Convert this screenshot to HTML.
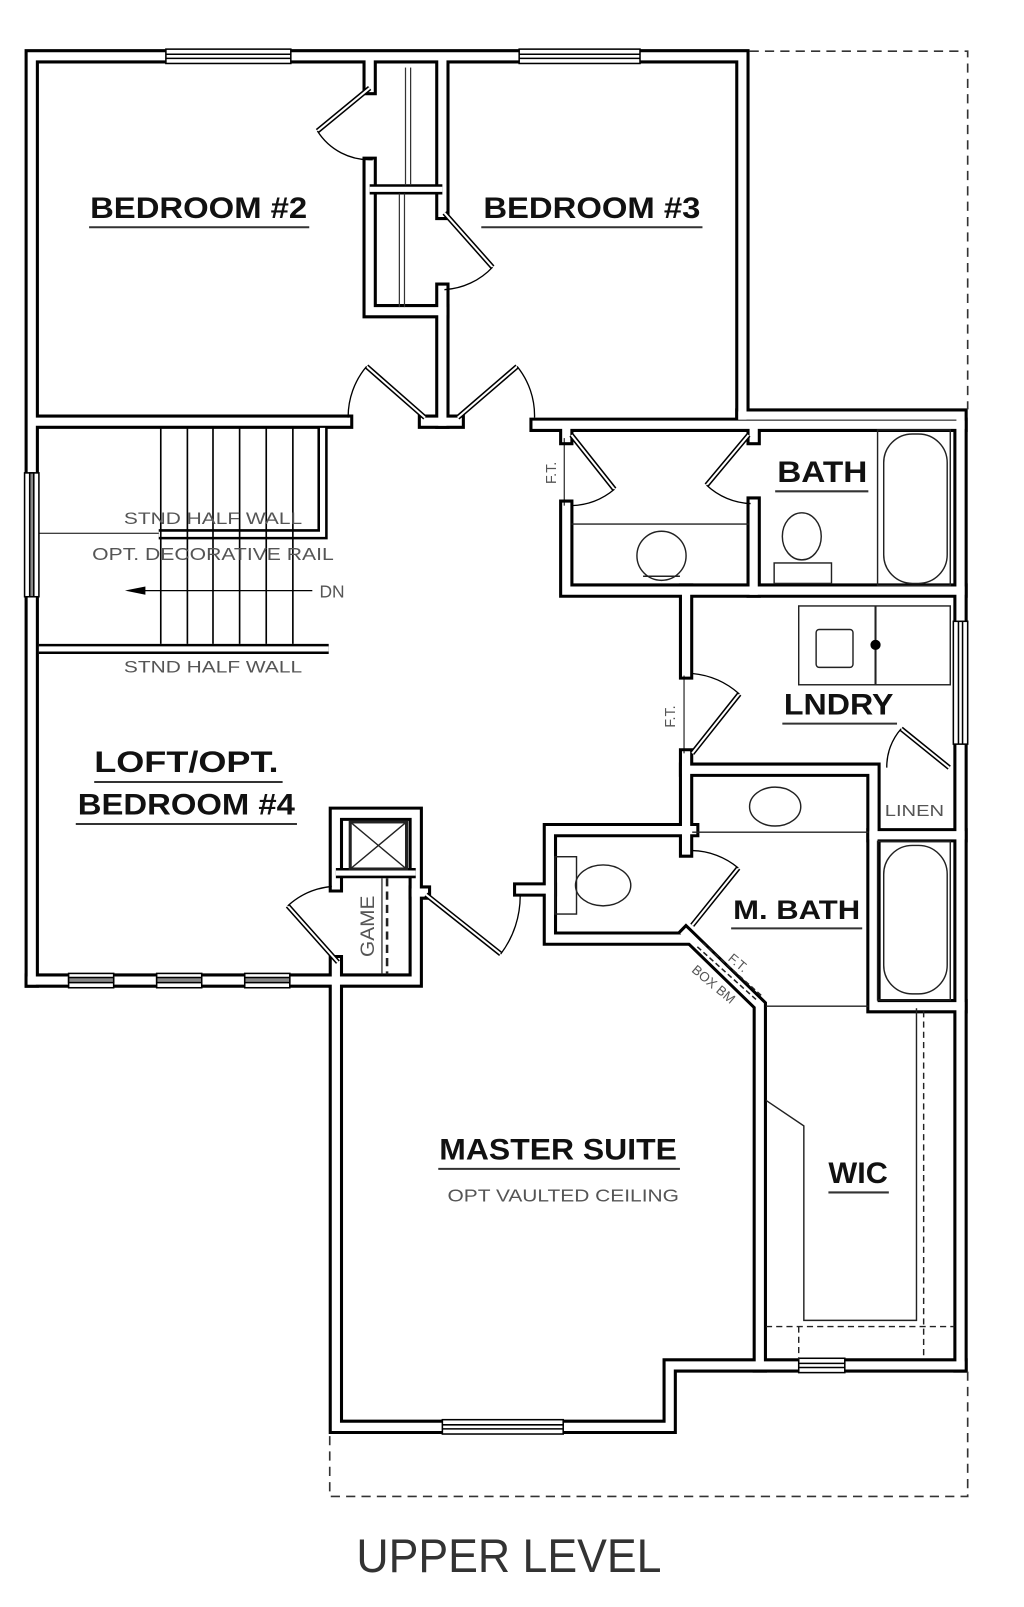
<!DOCTYPE html>
<html><head><meta charset="utf-8"><style>
html,body{margin:0;padding:0;background:#fff;}
svg{display:block;}
.t{font-family:"Liberation Sans",sans-serif;font-weight:bold;fill:#111;}
.s{font-family:"Liberation Sans",sans-serif;fill:#555;}
</style></head><body>
<svg width="1024" height="1607" viewBox="0 0 1000 1570" preserveAspectRatio="none" xmlns="http://www.w3.org/2000/svg">
<defs>
<g id="W" fill="none" stroke-linejoin="miter" stroke-linecap="square">
<path d="M31 958 V55 H725 V406"/>
<path d="M725 406 H938 V1334"/>
<path d="M938 1334 H654 V1394 H328 V958"/>
<path d="M31 958 H328"/>
<path d="M38 412 H338"/>
<path d="M415 412 H447"/>
<path d="M524 415 H938"/>
<path d="M361 62 V86"/>
<path d="M361 160 V304 H432"/>
<path d="M432 62 V208"/>
<path d="M432 283 V412"/>
<path d="M553 495 V577 H938"/>
<path d="M553 418 V428"/>
<path d="M736 418 V428"/>
<path d="M736 492 V577"/>
<path d="M670 577 V657"/>
<path d="M670 738 V831"/>
<path d="M670 752 H853 V816 H938"/>
<path d="M676 811 H537 V917 H670"/>
<path d="M508 869 H537"/>
<path d="M670 912 L742 982 V1334"/>
<path d="M853 816 V983 H938"/>
<path d="M328 958 V940"/>
<path d="M328 865 V795 H406 V958 H328"/>
<path d="M406 872 H414"/>
</g>
<g id="H" fill="none" stroke-linecap="butt">
<path d="M38 634 H321"/>
<path d="M155 522 H315 V418"/>
<path d="M361 185 H432"/>
<path d="M328 853 H406"/>
</g>
<g id="L">
<path d="M361 86 L310 128"/>
<path d="M434 208 L481 261"/>
<path d="M415 408 L358 358"/>
<path d="M447 408 L505 358"/>
<path d="M558 425 L600 478"/>
<path d="M731 425 L690 474"/>
<path d="M676 736 L722 678"/>
<path d="M927 750 L880 712"/>
<path d="M676 904 L721 848"/>
<path d="M330 940 L281 885"/>
<path d="M416 874 L489 932"/>
</g>
</defs>
<use href="#W" stroke="#000" stroke-width="14"/>
<use href="#W" stroke="#fff" stroke-width="8"/>
<use href="#H" stroke="#000" stroke-width="10"/>
<use href="#H" stroke="#fff" stroke-width="5"/>

<!-- windows -->
<g stroke="#000" stroke-width="1.5">
<rect x="162" y="48" width="122" height="14" fill="#fff"/>
<line x1="162" y1="53" x2="284" y2="53"/><line x1="162" y1="57" x2="284" y2="57"/>
<rect x="507" y="48" width="118" height="14" fill="#fff"/>
<line x1="507" y1="53" x2="625" y2="53"/><line x1="507" y1="57" x2="625" y2="57"/>
<rect x="24" y="462" width="14" height="121" fill="#fff"/>
<rect x="29" y="462" width="4" height="121" fill="#888"/>
<rect x="931" y="607" width="14" height="120" fill="#fff"/>
<line x1="936" y1="607" x2="936" y2="727"/><line x1="940" y1="607" x2="940" y2="727"/>
<rect x="67" y="951" width="44" height="14" fill="#fff"/><rect x="67" y="955" width="44" height="5" fill="#888"/>
<rect x="153" y="951" width="44" height="14" fill="#fff"/><rect x="153" y="955" width="44" height="5" fill="#888"/>
<rect x="239" y="951" width="44" height="14" fill="#fff"/><rect x="239" y="955" width="44" height="5" fill="#888"/>
<rect x="432" y="1387" width="118" height="14" fill="#fff"/>
<line x1="432" y1="1392" x2="550" y2="1392"/><line x1="432" y1="1396" x2="550" y2="1396"/>
<rect x="780" y="1327" width="45" height="14" fill="#fff"/>
<line x1="780" y1="1332" x2="825" y2="1332"/><line x1="780" y1="1336" x2="825" y2="1336"/>
</g>

<!-- dashed outline -->
<g fill="none" stroke="#333" stroke-width="1.6" stroke-dasharray="9 6">
<path d="M732 50 H945 V400"/>
<path d="M945 1340 V1462 H322 V1400"/>
</g>

<!-- closet shelves -->
<g stroke="#333" stroke-width="1.2">
<line x1="396" y1="66" x2="396" y2="181"/><line x1="401" y1="66" x2="401" y2="181"/>
<line x1="390" y1="189" x2="390" y2="300"/><line x1="395" y1="189" x2="395" y2="300"/>
</g>

<!-- doors -->
<use href="#L" stroke="#000" stroke-width="5" fill="none"/>
<use href="#L" stroke="#fff" stroke-width="2" fill="none"/>
<g fill="none" stroke="#000" stroke-width="1.3">
<path d="M310 128 A60 60 0 0 0 364 156"/>
<path d="M481 261 A70 70 0 0 1 434 283"/>
<path d="M358 358 A76 76 0 0 0 340 408"/>
<path d="M505 358 A76 76 0 0 1 522 408"/>
<path d="M600 478 A68 68 0 0 1 558 494"/>
<line x1="551" y1="428" x2="551" y2="494" stroke-width="1"/>
<path d="M690 474 A66 66 0 0 0 733 492"/>
<path d="M722 678 A80 80 0 0 0 676 658"/>
<line x1="668" y1="660" x2="668" y2="736" stroke-width="1"/>
<path d="M880 712 A56 56 0 0 0 866 750"/>
<path d="M721 848 A72 72 0 0 0 676 831"/>
<path d="M281 885 A74 74 0 0 1 324 866"/>
<path d="M489 932 A94 94 0 0 0 508 874"/>
</g>

<!-- stairs -->
<g stroke="#000" stroke-width="1.6">
<line x1="157" y1="418" x2="157" y2="629"/><line x1="183" y1="418" x2="183" y2="629"/>
<line x1="208" y1="418" x2="208" y2="629"/><line x1="234" y1="418" x2="234" y2="629"/>
<line x1="260" y1="418" x2="260" y2="629"/><line x1="286" y1="418" x2="286" y2="629"/>
<line x1="38" y1="521" x2="155" y2="521" stroke-width="1"/>
<line x1="140" y1="577" x2="305" y2="577" stroke-width="1.2"/>
</g>
<polygon points="122,577 142,573 142,581" fill="#000"/>

<!-- fixtures -->
<g fill="none" stroke="#222" stroke-width="1.4">
<rect x="857" y="420" width="71" height="152"/>
<rect x="863" y="424" width="62" height="146" rx="28"/>
<ellipse cx="783" cy="524" rx="19" ry="23"/>
<rect x="756" y="550" width="56" height="20"/>
<line x1="558" y1="512" x2="731" y2="512"/>
<circle cx="646" cy="543" r="24"/>
<line x1="628" y1="563" x2="664" y2="563"/>
<rect x="780" y="592" width="148" height="77"/>
<line x1="855" y1="592" x2="855" y2="669" stroke-width="2"/>
<rect x="797" y="615" width="36" height="37" rx="3"/>
<line x1="676" y1="813" x2="848" y2="813"/>
<ellipse cx="757" cy="788" rx="25" ry="19"/>
<rect x="542" y="837" width="21" height="56"/>
<ellipse cx="589" cy="865" rx="27" ry="20"/>
<rect x="857" y="822" width="71" height="155"/>
<rect x="863" y="826" width="62" height="145" rx="28"/>
<line x1="748" y1="983" x2="848" y2="983"/>
<rect x="342" y="803" width="55" height="46" stroke-width="3"/>
<line x1="342" y1="803" x2="397" y2="849"/><line x1="397" y1="803" x2="342" y2="849"/>
<line x1="373" y1="858" x2="373" y2="952" stroke-width="1.2"/>
<line x1="378" y1="858" x2="378" y2="952" stroke-dasharray="8 5" stroke-width="2.5"/>
<path d="M748 1075 L785 1100 V1290 H895 V985"/>
<line x1="902" y1="988" x2="902" y2="1325" stroke-dasharray="6 4"/>
<line x1="748" y1="1296" x2="932" y2="1296" stroke-dasharray="6 4"/>
<line x1="780" y1="1296" x2="780" y2="1328" stroke-dasharray="6 4"/>
<line x1="681" y1="925" x2="740" y2="978" stroke-dasharray="5 3" stroke-width="1.5"/>
<line x1="686" y1="921" x2="745" y2="974" stroke-dasharray="5 3" stroke-width="1.5"/>
</g>
<circle cx="855" cy="630" r="5" fill="#000"/>

<!-- labels -->
<text class="t" x="194" y="213" font-size="29" text-anchor="middle" textLength="212" lengthAdjust="spacingAndGlyphs">BEDROOM #2</text>
<line x1="87" y1="222" x2="302" y2="222" stroke="#333" stroke-width="2"/>
<text class="t" x="578" y="213" font-size="29" text-anchor="middle" textLength="212" lengthAdjust="spacingAndGlyphs">BEDROOM #3</text>
<line x1="470" y1="222" x2="686" y2="222" stroke="#333" stroke-width="2"/>
<text class="t" x="803" y="471" font-size="29" text-anchor="middle" textLength="88" lengthAdjust="spacingAndGlyphs">BATH</text>
<line x1="757" y1="480" x2="848" y2="480" stroke="#333" stroke-width="2"/>
<text class="t" x="819" y="698" font-size="29" text-anchor="middle" textLength="107" lengthAdjust="spacingAndGlyphs">LNDRY</text>
<line x1="764" y1="707" x2="876" y2="707" stroke="#333" stroke-width="2"/>
<text class="t" x="778" y="898" font-size="26" text-anchor="middle" textLength="124" lengthAdjust="spacingAndGlyphs">M. BATH</text>
<line x1="714" y1="907" x2="842" y2="907" stroke="#333" stroke-width="2"/>
<text class="t" x="182" y="754" font-size="29" text-anchor="middle" textLength="180" lengthAdjust="spacingAndGlyphs">LOFT/OPT.</text>
<line x1="92" y1="764" x2="276" y2="764" stroke="#333" stroke-width="2"/>
<text class="t" x="182" y="796" font-size="29" text-anchor="middle" textLength="212" lengthAdjust="spacingAndGlyphs">BEDROOM #4</text>
<line x1="74" y1="805" x2="290" y2="805" stroke="#333" stroke-width="2"/>
<text class="t" x="545" y="1133" font-size="29" text-anchor="middle" textLength="232" lengthAdjust="spacingAndGlyphs">MASTER SUITE</text>
<line x1="428" y1="1142" x2="664" y2="1142" stroke="#333" stroke-width="2"/>
<text class="t" x="838" y="1156" font-size="29" text-anchor="middle" textLength="58" lengthAdjust="spacingAndGlyphs">WIC</text>
<line x1="809" y1="1165" x2="868" y2="1165" stroke="#333" stroke-width="2"/>
<text class="s" x="550" y="1174" font-size="17" text-anchor="middle" textLength="226" lengthAdjust="spacingAndGlyphs">OPT VAULTED CEILING</text>
<text class="s" x="208" y="512" font-size="16" text-anchor="middle" textLength="174" lengthAdjust="spacingAndGlyphs">STND HALF WALL</text>
<text class="s" x="208" y="547" font-size="17" text-anchor="middle" textLength="236" lengthAdjust="spacingAndGlyphs">OPT. DECORATIVE RAIL</text>
<text class="s" x="208" y="657" font-size="16" text-anchor="middle" textLength="174" lengthAdjust="spacingAndGlyphs">STND HALF WALL</text>
<text class="s" x="312" y="584" font-size="17">DN</text>
<text class="s" x="893" y="797" font-size="15" text-anchor="middle" textLength="58" lengthAdjust="spacingAndGlyphs">LINEN</text>
<text class="s" x="0" y="0" font-size="19" text-anchor="middle" transform="translate(365,905) rotate(-90)" textLength="60" lengthAdjust="spacingAndGlyphs">GAME</text>
<text class="s" x="0" y="0" font-size="14" text-anchor="middle" transform="translate(543,462) rotate(-90)">F.T.</text>
<text class="s" x="0" y="0" font-size="14" text-anchor="middle" transform="translate(659,700) rotate(-90)">F.T.</text>
<text class="s" x="0" y="0" font-size="13" text-anchor="middle" transform="translate(718,944) rotate(40)">F.T.</text>
<text class="s" x="0" y="0" font-size="13" text-anchor="middle" transform="translate(694,965) rotate(40)">BOX BM</text>
<text x="497" y="1536" font-family="Liberation Sans, sans-serif" font-size="46" fill="#333" text-anchor="middle" textLength="298" lengthAdjust="spacingAndGlyphs">UPPER LEVEL</text>
</svg>
</body></html>
